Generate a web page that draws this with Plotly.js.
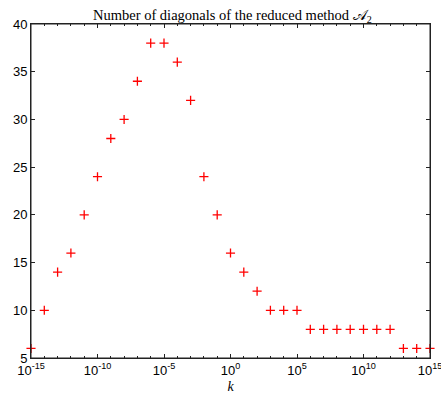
<!DOCTYPE html>
<html>
<head>
<meta charset="utf-8">
<script src="https://cdn.plot.ly/plotly-3.0.1.min.js"></script>
<style>html,body{margin:0;padding:0;background:#fff;}#chart{width:441px;height:403px;}</style>
</head>
<body>
<div id="chart"></div>
<script>
const kExponents = [-15,-14,-13,-12,-11,-10,-9,-8,-7,-6,-5,-4,-3,-2,-1,0,1,2,3,4,5,6,7,8,9,10,11,12,13,14,15];
const diagonals = [6,10,14,16,20,24,28,30,34,38,38,36,32,24,20,16,14,12,10,10,10,8,8,8,8,8,8,8,6,6,6];
const kValues = kExponents.map(e => Math.pow(10, e));

const trace = {
  x: kValues,
  y: diagonals,
  type: 'scatter',
  mode: 'markers',
  marker: {symbol: 'cross-thin', size: 6.5, color: 'red', line: {color: 'red', width: 1.3}},
  cliponaxis: false,
  showlegend: false
};

const axisCommon = {
  showgrid: false,
  zeroline: false,
  showline: true,
  linecolor: '#222',
  linewidth: 1,
  mirror: 'ticks',
  ticks: 'inside',
  ticklen: 4,
  tickcolor: '#222',
  ticklabeloverflow: 'allow',
  tickfont: {family: 'Liberation Sans, Arial, sans-serif', size: 13, color: '#000'}
};

const layout = {
  width: 441,
  height: 403,
  margin: {l: 31, r: 11, t: 24, b: 45},
  paper_bgcolor: '#fff',
  plot_bgcolor: '#fff',
  title: {
    text: 'Number of diagonals of the reduced method 𝒜<sub>2</sub>',
    font: {family: 'Liberation Serif, DejaVu Serif, serif', size: 14.5, color: '#000'},
    x: 0.527, xanchor: 'center', y: 0.963, yanchor: 'middle'
  },
  xaxis: Object.assign({}, axisCommon, {
    type: 'log',
    range: [-15, 15],
    tickvals: [1e-15, 1e-10, 1e-5, 1, 1e5, 1e10, 1e15],
    ticktext: ['10<sup>-15</sup>', '10<sup>-10</sup>', '10<sup>-5</sup>', '10<sup>0</sup>', '10<sup>5</sup>', '10<sup>10</sup>', '10<sup>15</sup>'],
    minor: {tickvals: kValues, ticks: 'inside', ticklen: 2, tickcolor: '#222'},
    title: {text: '<i>k</i>', font: {family: 'Liberation Serif, DejaVu Serif, serif', size: 14, color: '#000'}, standoff: 4}
  }),
  yaxis: Object.assign({}, axisCommon, {
    range: [5, 40],
    dtick: 5,
    tick0: 5
  }),
  shapes: [{
    type: 'rect', xref: 'paper', yref: 'paper', x0: 0, x1: 1, y0: 0, y1: 1,
    line: {color: '#222', width: 1}, fillcolor: 'rgba(0,0,0,0)', layer: 'above'
  }]
};

Plotly.newPlot('chart', [trace], layout, {displayModeBar: false, staticPlot: true});
</script>
</body>
</html>
